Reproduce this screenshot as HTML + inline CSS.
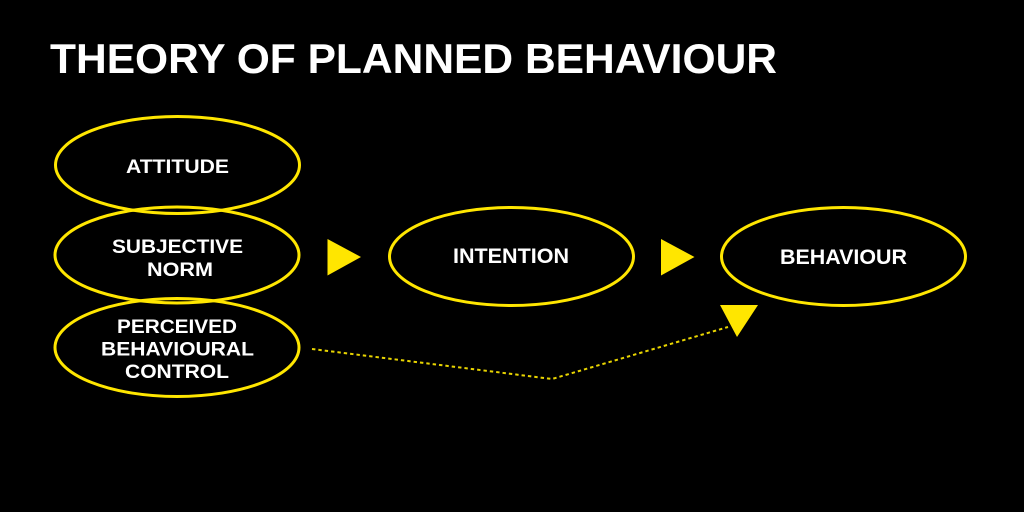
<!DOCTYPE html>
<html>
<head>
<meta charset="utf-8">
<style>
  html,body{margin:0;padding:0;background:#000;}
  body{width:1024px;height:512px;overflow:hidden;}
  svg{display:block;}
  text{font-family:"Liberation Sans",Arial,sans-serif;font-weight:bold;fill:#fff;}
</style>
</head>
<body>
<svg width="1024" height="512" viewBox="0 0 1024 512" xmlns="http://www.w3.org/2000/svg">
  <rect x="0" y="0" width="1024" height="512" fill="#000"/>
  <text x="50" y="73" font-size="42" textLength="727" lengthAdjust="spacingAndGlyphs">THEORY OF PLANNED BEHAVIOUR</text>

  <g fill="none" stroke="#ffe600" stroke-width="3">
    <ellipse cx="177.5" cy="165" rx="122" ry="48.5"/>
    <ellipse cx="177" cy="255" rx="122" ry="48"/>
    <ellipse cx="177" cy="347.5" rx="122" ry="49"/>
    <ellipse cx="511.5" cy="256.5" rx="122" ry="49"/>
    <ellipse cx="843.5" cy="256.5" rx="122" ry="49"/>
  </g>

  <g fill="#ffe600">
    <polygon points="327.5,239 361,257 327.5,275.5"/>
    <polygon points="661,239 694.5,257 661,275.5"/>
    <polygon points="720,305 758,305 737,337"/>
  </g>

  <polyline points="312,349 552,379 728,327" fill="none" stroke="#e8d400" stroke-width="2" stroke-dasharray="3.4 3"/>

  <g font-size="19.5">
    <text x="126" y="173" textLength="103" lengthAdjust="spacingAndGlyphs">ATTITUDE</text>
    <text x="112" y="253" textLength="131" lengthAdjust="spacingAndGlyphs">SUBJECTIVE</text>
    <text x="147" y="276" textLength="66" lengthAdjust="spacingAndGlyphs">NORM</text>
    <text x="117" y="333" textLength="120" lengthAdjust="spacingAndGlyphs">PERCEIVED</text>
    <text x="101" y="355.5" textLength="153" lengthAdjust="spacingAndGlyphs">BEHAVIOURAL</text>
    <text x="125" y="378" textLength="104" lengthAdjust="spacingAndGlyphs">CONTROL</text>
  </g>
  <g font-size="21">
    <text x="453" y="263" textLength="116" lengthAdjust="spacingAndGlyphs">INTENTION</text>
    <text x="780" y="264" textLength="127" lengthAdjust="spacingAndGlyphs">BEHAVIOUR</text>
  </g>
</svg>
</body>
</html>
